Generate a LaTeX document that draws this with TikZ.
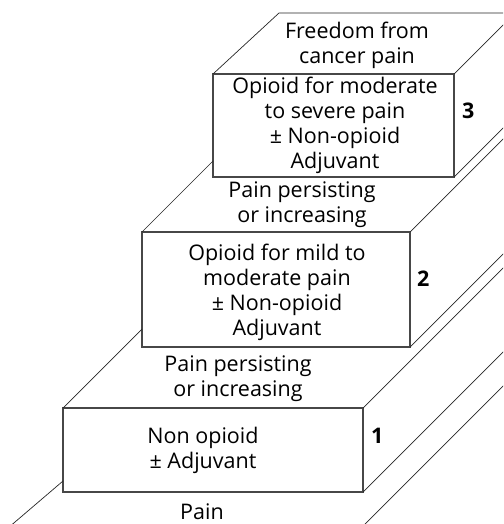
\documentclass[tikz,border=0pt]{standalone}
\usepackage{fontspec}
\setmainfont{Open Sans}
\usetikzlibrary{positioning,calc}

\tikzset{
  stepbox/.style={draw=black!72, line width=1.3pt, rectangle, inner sep=0pt, outer sep=0pt, anchor=north west},
  rim/.style={black!85, line width=0.7pt},
  steptext/.style={align=center, text=black, font=\fontsize{21.5}{25}\selectfont},
  stepnum/.style={text=black, font=\fontsize{21.5}{25}\selectfont\bfseries, inner sep=0pt}
}

\begin{document}
\begin{tikzpicture}[x=1pt, y=-1pt, line cap=round]
\clip (0,0) rectangle (503,524);

% Facce frontali dei gradini
\node[stepbox, minimum width=300pt, minimum height=84pt] (step1) at (63,408) {};
\node[stepbox, minimum width=268pt, minimum height=115pt] (step2) at (142,232) {};
\node[stepbox, minimum width=241pt, minimum height=103pt] (step3) at (213,74) {};

% Spigoli in profondita
\draw[rim] (step3.north west) -- (279,13) -- (540,13);
\draw[rim] (step2.north west) -- ++(71,-71);
\draw[rim] (step1.north west) -- ++(79,-79);
\coordinate (floorW) at (8,528);
\coordinate (floorE) at (364,525);
\draw[rim] (floorW) -- (63,481);
\foreach \s in {step1,step2,step3}{
  \draw[rim] (\s.north east) -- ++(170,-170);
  \draw[rim] (\s.south east) -- ++(170,-170);
}
\draw[rim] (floorE) -- ++(170,-170);

% Testi
\node[steptext] (free) at (357,45) {Freedom from\\cancer pain};
\node[steptext] (t3) at (335,125) {Opioid for moderate\\to severe pain\\± Non-opioid\\Adjuvant};
\node[steptext] (p2) at (302,205) {Pain persisting\\or increasing};
\node[steptext] (t2) at (277,292) {Opioid for mild to\\moderate pain\\± Non-opioid\\Adjuvant};
\node[steptext] (p1) at (238,379) {Pain persisting\\or increasing};
\node[steptext] (t1) at (203,450) {Non opioid\\± Adjuvant};
\node[steptext] (pain) at (202,512) {Pain};

% Numeri dei gradini
\node[stepnum, right=8pt of step3.east, yshift=15pt] (n3) {3};
\node[stepnum, right=7pt of step2.east, yshift=11pt] (n2) {2};
\node[stepnum, right=8pt of step1.east, yshift=14pt] (n1) {1};

\end{tikzpicture}
\end{document}
